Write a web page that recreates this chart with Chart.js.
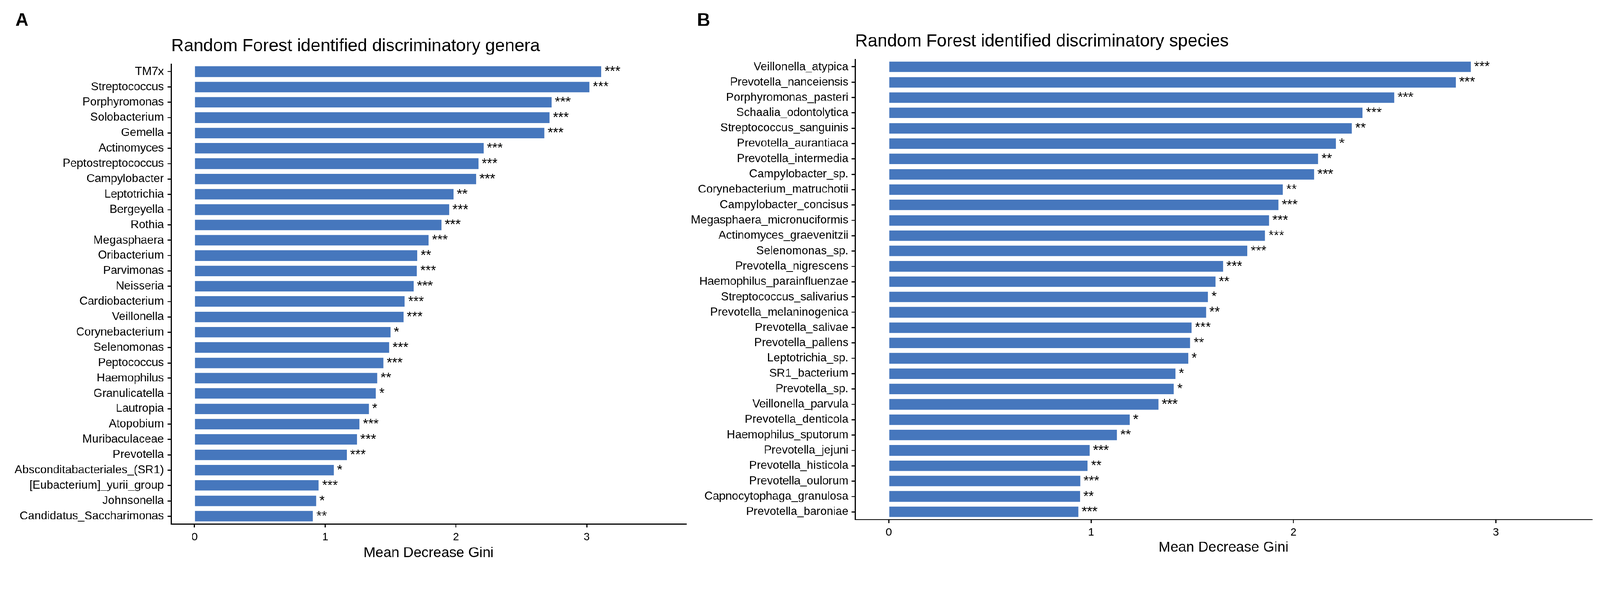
<!DOCTYPE html>
<html><head><meta charset="utf-8">
<script src="https://cdn.jsdelivr.net/npm/chart.js@4.4.1/dist/chart.umd.min.js"></script>
<style>
html,body{margin:0;padding:0;background:#fff;overflow:hidden}
#wrap{position:absolute;left:0;top:0;width:4375px;height:1546px;transform-origin:0 0;background:#fff}
canvas{position:absolute;top:0}
#cA{left:0}
#cB{left:1880px}
</style></head><body>
<div id="wrap">
<canvas id="cA" width="1900" height="1546"></canvas>
<canvas id="cB" width="2495" height="1546"></canvas>
</div>
<script>
const generaLabels = ["TM7x","Streptococcus","Porphyromonas","Solobacterium","Gemella","Actinomyces","Peptostreptococcus","Campylobacter","Leptotrichia","Bergeyella","Rothia","Megasphaera","Oribacterium","Parvimonas","Neisseria","Cardiobacterium","Veillonella","Corynebacterium","Selenomonas","Peptococcus","Haemophilus","Granulicatella","Lautropia","Atopobium","Muribaculaceae","Prevotella","Absconditabacteriales_(SR1)","[Eubacterium]_yurii_group","Johnsonella","Candidatus_Saccharimonas"];
const generaValues = [3.11,3.02,2.73,2.715,2.675,2.21,2.17,2.153,1.98,1.946,1.888,1.79,1.703,1.70,1.675,1.607,1.597,1.498,1.488,1.444,1.397,1.386,1.332,1.261,1.241,1.163,1.064,0.949,0.929,0.905];
const generaStars = ["***","***","***","***","***","***","***","***","**","***","***","***","**","***","***","***","***","*","***","***","**","*","*","***","***","***","*","***","*","**"];

const speciesLabels = ["Veillonella_atypica","Prevotella_nanceiensis","Porphyromonas_pasteri","Schaalia_odontolytica","Streptococcus_sanguinis","Prevotella_aurantiaca","Prevotella_intermedia","Campylobacter_sp.","Corynebacterium_matruchotii","Campylobacter_concisus","Megasphaera_micronuciformis","Actinomyces_graevenitzii","Selenomonas_sp.","Prevotella_nigrescens","Haemophilus_parainfluenzae","Streptococcus_salivarius","Prevotella_melaninogenica","Prevotella_salivae","Prevotella_pallens","Leptotrichia_sp.","SR1_bacterium","Prevotella_sp.","Veillonella_parvula","Prevotella_denticola","Haemophilus_sputorum","Prevotella_jejuni","Prevotella_histicola","Prevotella_oulorum","Capnocytophaga_granulosa","Prevotella_baroniae"];
const speciesValues = [2.875,2.802,2.497,2.341,2.288,2.209,2.121,2.101,1.947,1.925,1.878,1.859,1.771,1.651,1.614,1.577,1.567,1.496,1.489,1.479,1.416,1.408,1.332,1.190,1.127,0.992,0.982,0.945,0.944,0.936];
const speciesStars = ["***","***","***","***","**","*","**","***","**","***","***","***","***","***","**","*","**","***","**","*","*","*","***","*","**","***","**","***","**","***"];

const xTickValues = [0,1,2,3];
const titleA = "Random Forest identified discriminatory genera";
const titleB = "Random Forest identified discriminatory species";
const xAxisTitle = "Mean Decrease Gini";
const panelA = "A";
const panelB = "B";

const FONT = "'Liberation Sans', Arial, Helvetica, sans-serif";
const BAR = "#4677BD";

// fit the 4375x1546 design into whatever CSS viewport the browser reports
(function fitPage() {
  const s = Math.min(window.innerWidth / 4375, window.innerHeight / 1546);
  if (isFinite(s) && s > 0 && Math.abs(s - 1) > 0.001) {
    document.getElementById('wrap').style.transform = `scale(${s})`;
  }
})();

const annot = {
  id: 'annot',
  afterDatasetsDraw(chart, args, opts) {
    const ctx = chart.ctx;
    const meta = chart.getDatasetMeta(0);
    ctx.save();
    ctx.fillStyle = '#000';
    ctx.textAlign = 'left';
    ctx.textBaseline = 'alphabetic';
    ctx.font = `37px ${FONT}`;
    meta.data.forEach((bar, i) => {
      ctx.fillText(opts.stars[i], bar.x + 9.5, bar.y + 11.5);
    });
    ctx.font = `48px ${FONT}`;
    ctx.fillText(opts.title, chart.chartArea.left, chart.chartArea.top - 35);
    ctx.font = `bold 50px ${FONT}`;
    ctx.fillText(opts.panel, opts.panelX, 71);
    ctx.restore();
  }
};

function makeChart(id, labels, values, stars, cfg) {
  return new Chart(document.getElementById(id), {
    type: 'bar',
    data: {
      labels: labels,
      datasets: [{ data: values, backgroundColor: BAR, borderWidth: 0, barThickness: 28 }]
    },
    plugins: [annot],
    options: {
      indexAxis: 'y',
      responsive: false,
      devicePixelRatio: 1,
      animation: false,
      layout: { padding: { left: 0, top: cfg.top, right: cfg.right, bottom: cfg.bottom } },
      plugins: {
        legend: { display: false },
        tooltip: { enabled: false },
        title: { display: false },
        annot: { stars: stars, title: cfg.title, panel: cfg.panel, panelX: cfg.panelX }
      },
      scales: {
        x: {
          type: 'linear', min: cfg.xmin, max: cfg.xmax,
          afterBuildTicks: s => { s.ticks = xTickValues.map(v => ({ value: v })); },
          afterFit: s => { s.height = cfg.xh; },
          border: { display: true, color: '#000', width: 3 },
          grid: { display: true, drawOnChartArea: false, drawTicks: true, tickLength: 10, tickColor: '#000', tickWidth: 3, lineWidth: 3 },
          ticks: { color: '#000', font: { family: FONT, size: 30 }, padding: cfg.xpad, callback: v => String(v) },
          title: { display: true, text: xAxisTitle, color: '#000', font: { family: FONT, size: 39, lineHeight: 1 }, padding: { top: 0, bottom: 0 } }
        },
        y: {
          type: 'category', offset: true,
          afterFit: s => { s.width = cfg.yw; },
          border: { display: true, color: '#000', width: 3 },
          grid: { display: true, offset: false, drawOnChartArea: false, drawTicks: true, tickLength: 10, tickColor: '#000', tickWidth: 3, lineWidth: 3 },
          ticks: { color: '#000', font: { family: FONT, size: 31.5 }, padding: cfg.ypad, autoSkip: false }
        }
      }
    }
  });
}

makeChart('cA', generaLabels, generaValues, generaStars, {
  top: 175, right: 24, bottom: 14.5, xh: 99.5, xpad: 9, yw: 468, ypad: 10,
  xmin: -0.179, xmax: 3.76, title: titleA, panel: panelA, panelX: 42
});
makeChart('cB', speciesLabels, speciesValues, speciesStars, {
  top: 162, right: 22, bottom: 29, xh: 97, xpad: 8, yw: 458, ypad: 8,
  xmin: -0.167, xmax: 3.475, title: titleB, panel: panelB, panelX: 26
});
</script>
</body></html>
